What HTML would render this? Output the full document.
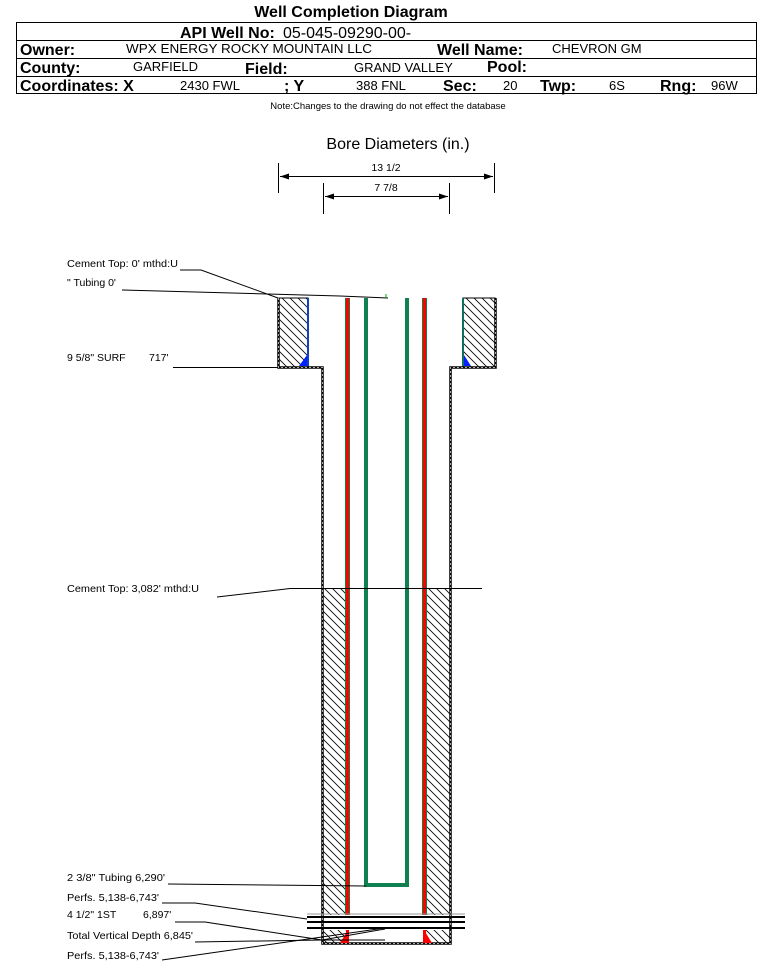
<!DOCTYPE html>
<html><head><meta charset="utf-8"><style>
body{margin:0;background:#fff;}
svg{display:block;font-family:"Liberation Sans",Arial,sans-serif;}
</style></head><body>
<svg width="759" height="962" viewBox="0 0 759 962" xmlns="http://www.w3.org/2000/svg">
<defs>
<pattern id="h" patternUnits="userSpaceOnUse" width="8" height="8">
<path d="M-2,-2 L10,10 M-2,6 L2,10 M6,-2 L10,2" stroke="#000" stroke-width="0.8"/>
</pattern>
</defs>
<text x="351" y="17" font-size="16" font-weight="bold" text-anchor="middle">Well Completion Diagram</text>
<rect x="16.5" y="22.5" width="740" height="71" fill="none" stroke="#000"/>
<line x1="16" y1="40.5" x2="757" y2="40.5" stroke="#000"/>
<line x1="16" y1="58.5" x2="757" y2="58.5" stroke="#000"/>
<line x1="16" y1="76.5" x2="757" y2="76.5" stroke="#000"/>
<g font-size="16" font-weight="bold">
<text x="180" y="38">API Well No:</text>
<text x="20" y="55">Owner:</text>
<text x="437" y="55">Well Name:</text>
<text x="20" y="73">County:</text>
<text x="245" y="74">Field:</text>
<text x="487" y="72">Pool:</text>
<text x="20" y="91">Coordinates: X</text>
<text x="284" y="91">; Y</text>
<text x="443" y="91">Sec:</text>
<text x="540" y="91">Twp:</text>
<text x="660" y="91">Rng:</text>
</g>
<text x="283" y="38" font-size="16">05-045-09290-00-</text>
<g font-size="13">
<text x="126" y="53" textLength="246" lengthAdjust="spacingAndGlyphs">WPX ENERGY ROCKY MOUNTAIN LLC</text>
<text x="552" y="53">CHEVRON GM</text>
<text x="133" y="71">GARFIELD</text>
<text x="354" y="72">GRAND VALLEY</text>
<text x="180" y="90">2430 FWL</text>
<text x="356" y="90">388 FNL</text>
<text x="503" y="90">20</text>
<text x="609" y="90">6S</text>
<text x="711" y="90">96W</text>
</g>
<text x="388" y="109" font-size="9.5" text-anchor="middle">Note:Changes to the drawing do not effect the database</text>

<text x="398" y="149" font-size="16" text-anchor="middle">Bore Diameters (in.)</text>
<g stroke="#000" stroke-width="1">
<line x1="278.5" y1="163" x2="278.5" y2="193"/><line x1="494.5" y1="163" x2="494.5" y2="193"/>
<line x1="280" y1="176.5" x2="493" y2="176.5"/>
<line x1="323.5" y1="183" x2="323.5" y2="214"/><line x1="449.5" y1="183" x2="449.5" y2="214"/>
<line x1="325" y1="196.5" x2="448" y2="196.5"/>
</g>
<g fill="#000">
<path d="M280,176.5 l9,-3 v6z"/><path d="M493,176.5 l-9,-3 v6z"/>
<path d="M325,196.5 l9,-3 v6z"/><path d="M448,196.5 l-9,-3 v6z"/>
</g>
<text x="386" y="171" font-size="10.5" text-anchor="middle">13 1/2</text>
<text x="386" y="191" font-size="10.5" text-anchor="middle">7 7/8</text>

<!-- surface cement -->
<rect x="279" y="298" width="29" height="69" fill="url(#h)" stroke="#000"/>
<rect x="463" y="298" width="32" height="69" fill="url(#h)" stroke="#000"/>
<line x1="308" y1="298" x2="308" y2="367" stroke="#1040c0" stroke-width="2"/>
<line x1="463" y1="298" x2="463" y2="367" stroke="#107060" stroke-width="2"/>
<path d="M299,366 L307,355 L307,366z" fill="#0020ff"/>
<path d="M464,355 L471,366 L464,366z" fill="#0020ff"/>
<!-- lower cement -->
<rect x="323" y="588" width="23" height="327" fill="url(#h)"/>
<rect x="426" y="588" width="24" height="327" fill="url(#h)"/>
<rect x="323" y="930" width="23" height="13" fill="url(#h)"/>
<rect x="426" y="930" width="24" height="13" fill="url(#h)"/>
<!-- outline -->
<path d="M278.5,298 V367.5 H322.5 V943.5 H450.5 V367.5 H495.5 V298" fill="none" stroke="#000" stroke-width="2.5"/>
<path d="M278.5,298 V367.5 H322.5 V943.5 H450.5 V367.5 H495.5 V298" fill="none" stroke="#aaa" stroke-width="1" stroke-dasharray="2,2"/>
<!-- production casing -->
<rect x="345" y="298" width="5" height="617" fill="#108040"/>
<rect x="346" y="298" width="3" height="617" fill="#ff0000"/>
<rect x="422" y="298" width="5" height="617" fill="#108040"/>
<rect x="423" y="298" width="3" height="617" fill="#ff0000"/>
<rect x="346" y="930" width="3" height="13" fill="#ff0000"/>
<rect x="423" y="930" width="3" height="13" fill="#ff0000"/>
<path d="M340,943 L348,930 L348,943z" fill="#ff0000"/>
<path d="M424,930 L432,943 L424,943z" fill="#ff0000"/>
<!-- tubing -->
<path d="M366,298 V885 H407 V298" fill="none" stroke="#108050" stroke-width="4"/>
<!-- perfs -->
<g stroke="#000" stroke-width="2">
<line x1="307" y1="917" x2="465" y2="917"/><line x1="307" y1="922" x2="465" y2="922"/><line x1="307" y1="928" x2="465" y2="928"/>
</g>
<line x1="307" y1="914" x2="465" y2="914" stroke="#999" stroke-width="1"/>

<!-- leaders -->
<g stroke="#000" stroke-width="1" fill="none">
<polyline points="180,270 201,270 278,298"/>
<polyline points="122,290 340,296 388,298"/>
<line x1="173" y1="367.5" x2="278" y2="367.5"/>
<polyline points="217,597 290,588.5 482,588.5"/>
<line x1="168" y1="884" x2="366" y2="886"/>
<polyline points="162,903 195,903 307,919"/>
<polyline points="175,922 205,922 322,940"/>
<polyline points="195,942 322,940 385,929"/>
<line x1="322" y1="940" x2="385" y2="940"/>
<line x1="162" y1="960" x2="385" y2="928"/>
</g>
<line x1="386" y1="294" x2="386" y2="298" stroke="#0a0" stroke-width="1"/>
<g font-size="10.5">
<text x="67" y="267" textLength="111" lengthAdjust="spacingAndGlyphs">Cement Top: 0' mthd:U</text>
<text x="67" y="286">" Tubing 0'</text>
<text x="67" y="361">9 5/8" SURF</text><text x="149" y="361">717'</text>
<text x="67" y="592" textLength="132" lengthAdjust="spacingAndGlyphs">Cement Top: 3,082' mthd:U</text>
<text x="67" y="881" textLength="98" lengthAdjust="spacingAndGlyphs">2 3/8" Tubing 6,290'</text>
<text x="67" y="901" textLength="92" lengthAdjust="spacingAndGlyphs">Perfs. 5,138-6,743'</text>
<text x="67" y="918">4 1/2" 1ST</text><text x="143" y="918">6,897'</text>
<text x="67" y="939" textLength="126" lengthAdjust="spacingAndGlyphs">Total Vertical Depth 6,845'</text>
<text x="67" y="959" textLength="92" lengthAdjust="spacingAndGlyphs">Perfs. 5,138-6,743'</text>
</g>
</svg>
</body></html>
